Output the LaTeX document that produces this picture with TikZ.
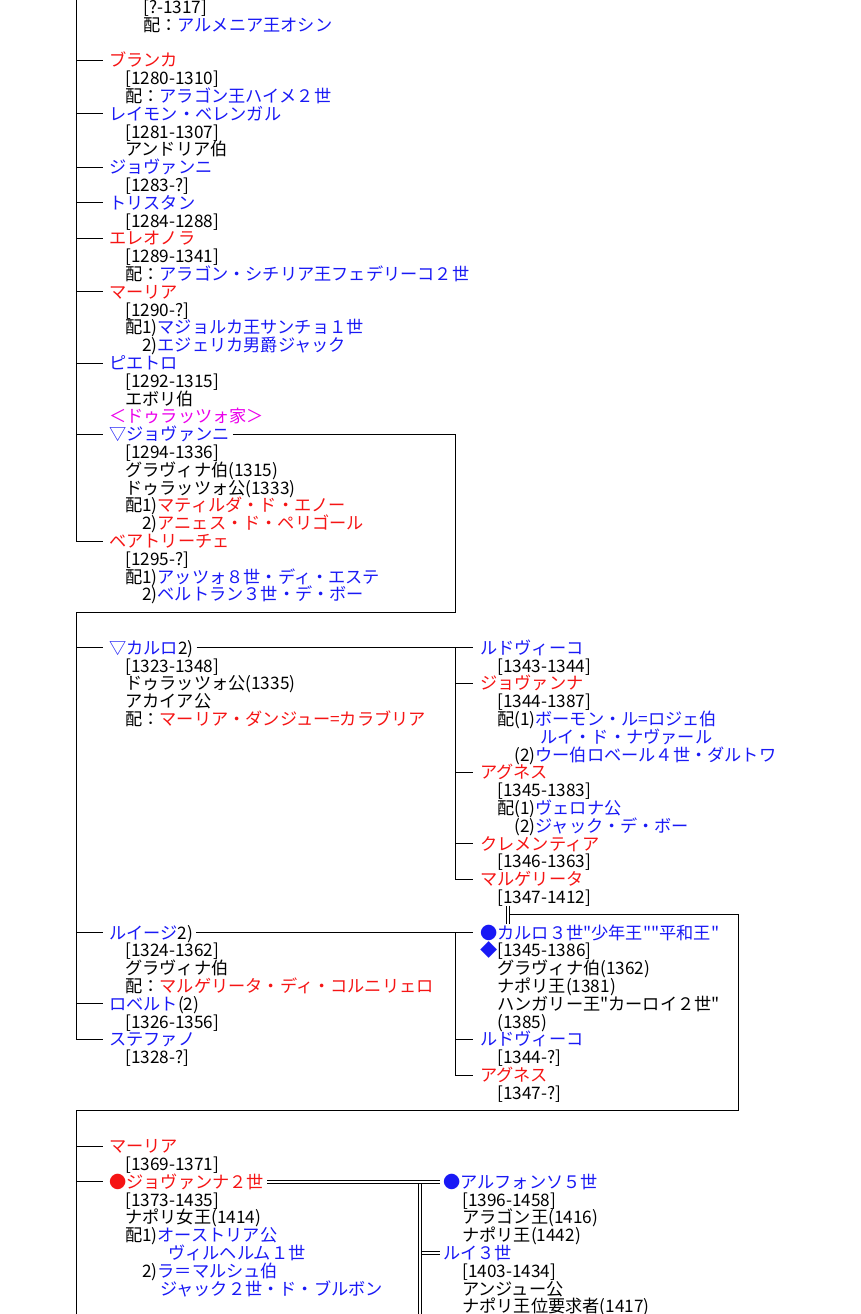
\documentclass[tikz,border=0pt]{standalone}
\usepackage{fontspec}
\newfontfamily\jp{Noto Sans CJK JP}
\definecolor{pblue}{RGB}{25,25,245}
\definecolor{pred}{RGB}{245,20,20}
\definecolor{pmag}{RGB}{235,0,235}

\begin{document}
\begin{tikzpicture}[x=1pt,y=-17.8pt]
	\tikzset{detail/.style={font=\jp\fontsize{17.2}{17.8}\selectfont,anchor=west,inner sep=0pt,text height=15pt,text depth=2pt}}
	\tikzset{male/.style={detail,text=pblue}}
	\tikzset{female/.style={detail,text=pred}}
	\tikzset{house/.style={detail,text=pmag}}
	\tikzset{branch/.style={draw,line width=0.8pt}}
	\tikzset{tick/.style={branch,shorten >=6pt}}
	\tikzset{tickb/.style={branch,shorten >=7pt}}
	\tikzset{marriage/.style={draw,line width=0.7pt,double,double distance=2pt}}
	\useasboundingbox (0,-0.3933) rectangle (860,73.427);

	% end of the previous child
	\node[detail] (armen1) at (143,0) {[?-1317]};
	\node[detail] (armen2) at (143,1) {配：\textcolor{pblue}{アルメニア王オシン}};
	% children, first part
	\node[female] (blanca) at (109,3) {ブランカ};
	\node[detail] (blanca1) at (125,4) {[1280-1310]};
	\node[detail] (blanca2) at (125,5) {配：\textcolor{pblue}{アラゴン王ハイメ２世}};
	\node[male] (raimon) at (109,6) {レイモン・ベレンガル};
	\node[detail] (raimon1) at (125,7) {[1281-1307]};
	\node[detail] (raimon2) at (125,8) {アンドリア伯};
	\node[male] (giov) at (109,9) {ジョヴァンニ};
	\node[detail] (giov1) at (125,10) {[1283-?]};
	\node[male] (trist) at (109,11) {トリスタン};
	\node[detail] (trist1) at (125,12) {[1284-1288]};
	\node[female] (eleo) at (109,13) {エレオノラ};
	\node[detail] (eleo1) at (125,14) {[1289-1341]};
	\node[detail] (eleo2) at (125,15) {配：\textcolor{pblue}{アラゴン・シチリア王フェデリーコ２世}};
	\node[female] (maria) at (109,16) {マーリア};
	\node[detail] (maria1) at (125,17) {[1290-?]};
	\node[detail] (maria2) at (125,18) {配1)\textcolor{pblue}{マジョルカ王サンチョ１世}};
	\node[detail] (maria3) at (125,19) {　2)\textcolor{pblue}{エジェリカ男爵ジャック}};
	\node[male] (pietro) at (109,20) {ピエトロ};
	\node[detail] (pietro1) at (125,21) {[1292-1315]};
	\node[detail] (pietro2) at (125,22) {エボリ伯};
	\node[house] (durazzo) at (109,23) {＜ドゥラッツォ家＞};
	\node[male] (giovd) at (109,24) {▽ジョヴァンニ};
	\node[detail] (giovd1) at (125,25) {[1294-1336]};
	\node[detail] (giovd2) at (125,26) {グラヴィナ伯(1315)};
	\node[detail] (giovd3) at (125,27) {ドゥラッツォ公(1333)};
	\node[detail] (giovd4) at (125,28) {配1)\textcolor{pred}{マティルダ・ド・エノー}};
	\node[detail] (giovd5) at (125,29) {　2)\textcolor{pred}{アニェス・ド・ペリゴール}};
	\node[female] (beat) at (109,30) {ベアトリーチェ};
	\node[detail] (beat1) at (125,31) {[1295-?]};
	\node[detail] (beat2) at (125,32) {配1)\textcolor{pblue}{アッツォ８世・ディ・エステ}};
	\node[detail] (beat3) at (125,33) {　2)\textcolor{pblue}{ベルトラン３世・デ・ボー}};

	% Giovanni's sons
	\node[male] (carlo) at (109,36) {▽カルロ\textcolor{black}{2)}};
	\node[detail] (carlo1) at (125,37) {[1323-1348]};
	\node[detail] (carlo2) at (125,38) {ドゥラッツォ公(1335)};
	\node[detail] (carlo3) at (125,39) {アカイア公};
	\node[detail] (carlo4) at (125,40) {配：\textcolor{pred}{マーリア・ダンジュー=カラブリア}};
	\node[male] (luigi) at (109,52) {ルイージ\textcolor{black}{2)}};
	\node[detail] (luigi1) at (125,53) {[1324-1362]};
	\node[detail] (luigi2) at (125,54) {グラヴィナ伯};
	\node[detail] (luigi3) at (125,55) {配：\textcolor{pred}{マルゲリータ・ディ・コルニリェロ}};
	\node[male] (rob) at (109,56) {ロベルト\textcolor{black}{(2)}};
	\node[detail] (rob1) at (125,57) {[1326-1356]};
	\node[male] (stef) at (109,58) {ステファノ};
	\node[detail] (stef1) at (125,59) {[1328-?]};

	% Carlo's children
	\node[male] (ludo) at (480,36) {ルドヴィーコ};
	\node[detail] (ludo1) at (497,37) {[1343-1344]};
	\node[female] (giovna) at (480,38) {ジョヴァンナ};
	\node[detail] (giovna1) at (497,39) {[1344-1387]};
	\node[detail] (giovna2) at (497,40) {配(1)\textcolor{pblue}{ボーモン・ル=ロジェ伯}};
	\node[detail,text=pblue] (giovna3) at (540,41) {ルイ・ド・ナヴァール};
	\node[detail] (giovna4) at (497,42) {　(2)\textcolor{pblue}{ウー伯ロベール４世・ダルトワ}};
	\node[female] (agnese) at (480,43) {アグネス};
	\node[detail] (agnese1) at (497,44) {[1345-1383]};
	\node[detail] (agnese2) at (497,45) {配(1)\textcolor{pblue}{ヴェロナ公}};
	\node[detail] (agnese3) at (497,46) {　(2)\textcolor{pblue}{ジャック・デ・ボー}};
	\node[female] (clem) at (480,47) {クレメンティア};
	\node[detail] (clem1) at (497,48) {[1346-1363]};
	\node[female] (marg) at (480,49) {マルゲリータ};
	\node[detail] (marg1) at (497,50) {[1347-1412]};

	% Luigi's children
	\node[male] (carlotre) at (480,52) {●カルロ３世"少年王""平和王"};
	\node[detail] (carlotre1) at (480,53) {\textcolor{pblue}{◆}[1345-1386]};
	\node[detail] (carlotre2) at (497,54) {グラヴィナ伯(1362)};
	\node[detail] (carlotre3) at (497,55) {ナポリ王(1381)};
	\node[detail] (carlotre4) at (497,56) {ハンガリー王"カーロイ２世"};
	\node[detail] (carlotre5) at (497,57) {(1385)};
	\node[male] (ludob) at (480,58) {ルドヴィーコ};
	\node[detail] (ludob1) at (497,59) {[1344-?]};
	\node[female] (agnesb) at (480,60) {アグネス};
	\node[detail] (agnesb1) at (497,61) {[1347-?]};

	% Carlo III's children
	\node[female] (mariab) at (109,64) {マーリア};
	\node[detail] (mariab1) at (125,65) {[1369-1371]};
	\node[female] (giovnb) at (109,66) {●ジョヴァンナ２世};
	\node[detail] (giovnb1) at (125,67) {[1373-1435]};
	\node[detail] (giovnb2) at (125,68) {ナポリ女王(1414)};
	\node[detail] (giovnb3) at (125,69) {配1)\textcolor{pblue}{オーストリア公}};
	\node[detail,text=pblue] (giovnb4) at (168,70) {ヴィルヘルム１世};
	\node[detail] (giovnb5) at (125,71) {　2)\textcolor{pblue}{ラ＝マルシュ伯}};
	\node[detail,text=pblue] (giovnb6) at (160,72) {ジャック２世・ド・ブルボン};
	\node[male] (alfonso) at (443,66) {●アルフォンソ５世};
	\node[detail] (alfonso1) at (462,67) {[1396-1458]};
	\node[detail] (alfonso2) at (462,68) {アラゴン王(1416)};
	\node[detail] (alfonso3) at (462,69) {ナポリ王(1442)};
	\node[male] (louis) at (443,70) {ルイ３世};
	\node[detail] (louis1) at (462,71) {[1403-1434]};
	\node[detail] (louis2) at (462,72) {アンジュー公};
	\node[detail] (louis3) at (462,73) {ナポリ王位要求者(1417)};

	% trunks and corners
	\coordinate (topA) at (76,-0.5);
	\coordinate (cornerA) at (455,34);
	\coordinate (joinA) at (76,34);
	\coordinate (trunkB) at (455,36);
	\coordinate (trunkC) at (455,52);
	\coordinate (heir) at (508,51);
	\coordinate (cornerB) at (738,62);
	\coordinate (joinB) at (76,62);
	\coordinate (bottomA) at (76,73.5);
	\coordinate (heirB) at (420,73.5);

	\draw[tick] (topA) |- (beat.west);
	\draw[tick] (topA |- blanca.west) -- (blanca.west);
	\draw[tick] (topA |- raimon.west) -- (raimon.west);
	\draw[tick] (topA |- giov.west) -- (giov.west);
	\draw[tick] (topA |- trist.west) -- (trist.west);
	\draw[tick] (topA |- eleo.west) -- (eleo.west);
	\draw[tick] (topA |- maria.west) -- (maria.west);
	\draw[tick] (topA |- pietro.west) -- (pietro.west);
	\draw[tick] (topA |- giovd.west) -- (giovd.west);
	\draw[tick,shorten <=3pt] (giovd.east) -| (cornerA) -- (joinA) |- (stef.west);
	\draw[tick] (joinA |- carlo.west) -- (carlo.west);
	\draw[tick] (joinA |- luigi.west) -- (luigi.west);
	\draw[tick] (joinA |- rob.west) -- (rob.west);

	\draw[tickb,shorten <=3pt] (carlo.east) -- (trunkB) |- (marg.west);
	\draw[tickb] (trunkB) -- (ludo.west);
	\draw[tickb] (trunkB |- giovna.west) -- (giovna.west);
	\draw[tickb] (trunkB |- agnese.west) -- (agnese.west);
	\draw[tickb] (trunkB |- clem.west) -- (clem.west);

	\draw[tickb,shorten <=3pt] (luigi.east) -- (trunkC) |- (agnesb.west);
	\draw[tickb] (trunkC) -- (carlotre.west);
	\draw[tickb] (trunkC |- ludob.west) -- (ludob.west);

	\draw[marriage] (heir |- marg1.south) -- (heir |- carlotre.north);
	\draw[branch] ([xshift=1.6pt]heir) -| (cornerB) -- (joinB) -- (bottomA);
	\draw[tick] (joinB |- mariab.west) -- (mariab.west);
	\draw[tick] (joinB |- giovnb.west) -- (giovnb.west);

	\draw[marriage] (heirB |- giovnb.east) -- (heirB);
	\draw[marriage,shorten <=3pt,shorten >=3pt] (giovnb.east) -- (alfonso.west);
	\draw[marriage,shorten >=3pt] ([xshift=1.8pt]heirB |- louis.west) -- (louis.west);
\end{tikzpicture}
\end{document}
